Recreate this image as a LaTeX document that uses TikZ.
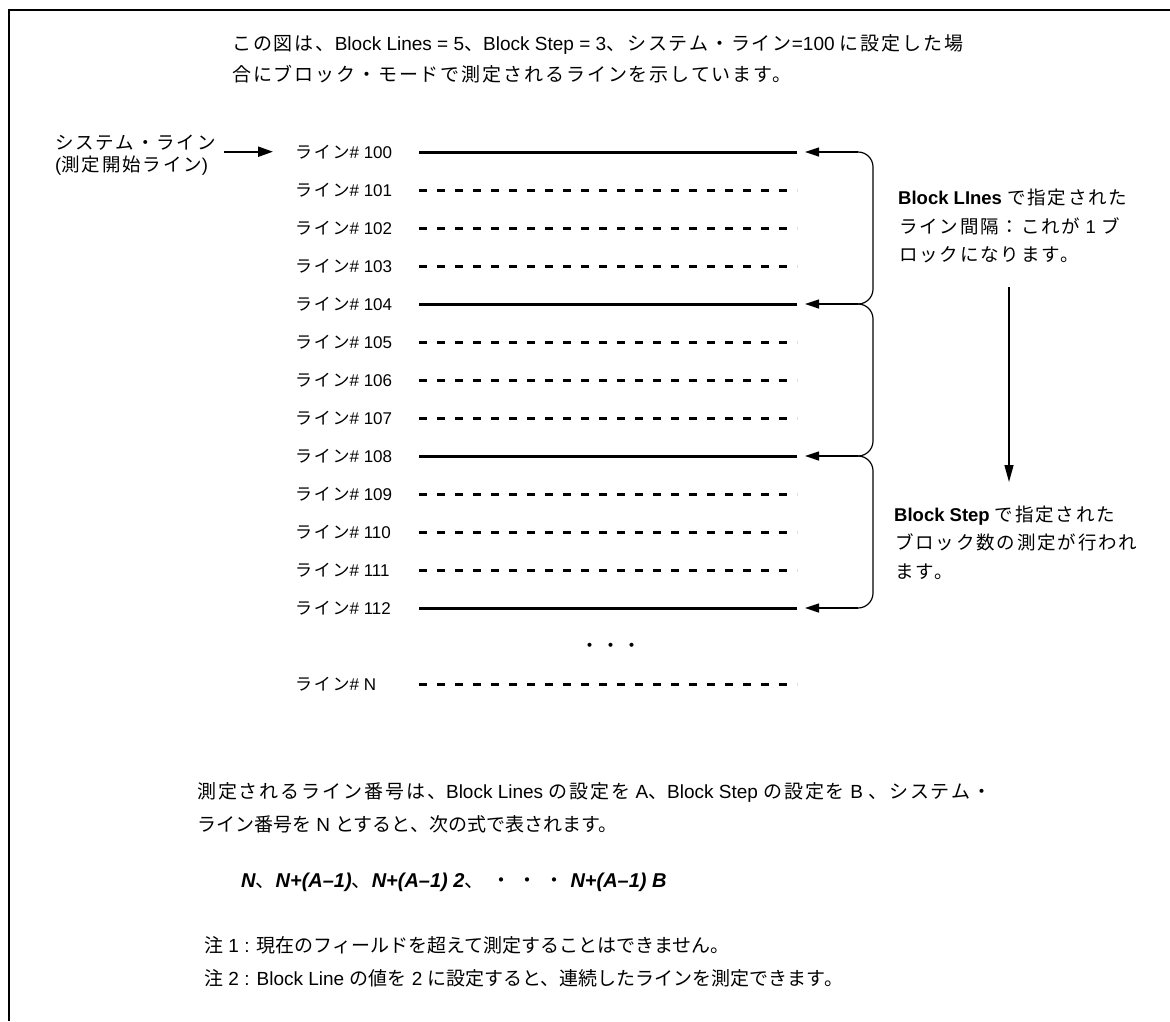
\documentclass[tikz,border=0pt]{standalone}
\usepackage{fontspec}
\setmainfont{Liberation Sans}
\newfontfamily\jpfont{Noto Sans CJK JP}[LetterSpace=10]
\newfontfamily\jpnfont{Noto Sans CJK JP}
\newcommand\jpt[1]{{\jpfont #1}}
\newcommand\jpn[1]{{\jpnfont #1}}
\usetikzlibrary{arrows.meta}
\tikzset{
  txt/.style={anchor=base west, inner sep=0pt, font=\fontsize{19}{19}\selectfont},
  rtxt/.style={anchor=base west, inner sep=0pt, font=\fontsize{18.5}{18.5}\selectfont},
  lbl/.style={anchor=base west, inner sep=0pt, font=\fontsize{17}{17}\selectfont},
  fml/.style={anchor=base west, inner sep=0pt, font=\fontsize{20}{20}\selectfont},
  solidline/.style={line width=3pt},
  dashline/.style={line width=3pt, dash pattern=on 8pt off 10pt},
  bracepath/.style={line width=1.2pt, rounded corners=15pt},
  leftarr/.style={line width=1.2pt, -{Triangle[length=14pt,width=9pt]}},
  sysarr/.style={line width=2.2pt, -{Triangle[length=15pt,width=10pt]}},
  downarr/.style={line width=1.5pt, -{Triangle[length=17pt,width=9pt]}},
}
\begin{document}
\begin{tikzpicture}[x=1pt,y=-1pt]
\useasboundingbox (0,0) rectangle (1170,1021);
\draw[line width=1.6pt] (9,1021) -- (9,10) -- (1170,10);

% top paragraph
\node[txt] (p1) at (232,50) {\jpt{この図は、}Block Lines = 5\jpt{、}Block Step = 3\jpt{、システム・ライン}=100 \jpt{に設定した場}};
\node[txt] (p2) at (232,81) {\jpt{合にブロック・モードで測定されるラインを示しています。}};

% system line label
\node[rtxt] (sys1) at (55,149) {\jpt{システム・ライン}};
\node[rtxt] (sys2) at (55,171) {(\jpt{測定開始ライン})};

% line labels and lines
\foreach \i in {0,...,12}{
  \pgfmathtruncatemacro\n{100+\i}
  \pgfmathsetmacro\yy{152+38*\i}
  \node[lbl] (L\n) at (295,\yy+6) {\jpt{ライン}\# \n};
  \coordinate (s\n) at (419,\yy);
  \coordinate (e\n) at (797,\yy);
}
\node[lbl] (LN) at (295,690) {\jpt{ライン}\# N};
\coordinate (sN) at (419,684);
\coordinate (eN) at (797,684);

\foreach \n in {100,104,108,112}{ \draw[solidline] (s\n) -- (e\n); }
\foreach \n in {101,102,103,105,106,107,109,110,111,N}{ \draw[dashline] (s\n) -- (e\n); }

\node[txt, anchor=base] (dots) at (611,652) {\jpt{・・・}};

% arrows and braces
\foreach \n/\yy in {100/152,104/304,108/456,112/608}{
  \coordinate (k\n) at (858,\yy);
  \coordinate (t\n) at (805,\yy);
  \draw[leftarr] (k\n) -- (t\n);
}
\draw[bracepath] (k100) -- (873,152) -- (873,304) -- (k104);
\draw[bracepath] (k104) -- (873,304) -- (873,456) -- (k108);
\draw[bracepath] (k108) -- (873,456) -- (873,608) -- (k112);

\draw[sysarr] ([xshift=8pt]sys1.east |- L100.west) -- ([xshift=-22pt]L100.west);

% right texts
\node[rtxt] (bl1) at (898,204) {\textbf{Block LInes} \jpt{で指定された}};
\node[rtxt] (bl2) at (899,233) {\jpt{ライン間隔：これが} 1 \jpt{ブ}};
\node[rtxt] (bl3) at (899,261) {\jpt{ロックになります。}};
\coordinate (dtop) at (1009,287);
\coordinate (dbot) at (1009,482);
\draw[downarr] (dtop) -- (dbot);
\node[rtxt] (bs1) at (894,521) {\textbf{Block Step} \jpt{で指定された}};
\node[rtxt] (bs2) at (895,549) {\jpt{ブロック数の測定が行われ}};
\node[rtxt] (bs3) at (895,578) {\jpt{ます。}};

% bottom paragraph
\node[txt] (q1) at (197,798) {\jpt{測定されるライン番号は、}Block Lines \jpt{の設定を} A\jpt{、}Block Step \jpt{の設定を} B \jpt{、システム・}};
\node[txt] (q2) at (197,831) {\jpn{ライン番号を} N \jpn{とすると、次の式で表されます。}};

\node[fml] (f) at (241,887) {{\bfseries\itshape N}\jpt{、}{\bfseries\itshape N+(A–1)}\jpt{、}{\bfseries\itshape N+(A–1) 2}\jpt{、 ・ ・ ・ }{\bfseries\itshape N+(A–1) B}};

\node[txt] (n1) at (204,952) {\jpn{注} 1 : \jpn{現在のフィールドを超えて測定することはできません。}};
\node[txt] (n2) at (204,985) {\jpn{注} 2 : Block Line \jpn{の値を} 2 \jpn{に設定すると、連続したラインを測定できます。}};
\end{tikzpicture}
\end{document}
